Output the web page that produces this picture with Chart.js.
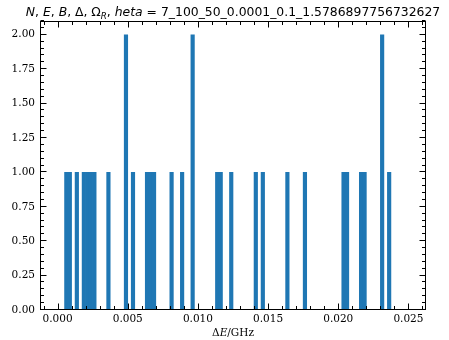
<!DOCTYPE html>
<html>
<head>
<meta charset="utf-8">
<script src="https://cdn.jsdelivr.net/npm/chart.js@4/dist/chart.umd.min.js"></script>
<style>
  html, body { margin: 0; padding: 0; background: #fff; }
  #wrap { width: 449px; height: 340px; position: relative; }
</style>
</head>
<body>
<div id="wrap"><canvas id="c" width="449" height="340"></canvas></div>
<script>
// Histogram of level spacings: bin width and the occupied bins (left edges, GHz)
const binWidth = 0.00025;
const binLeft = [0.0005, 0.00075, 0.00125, 0.00175, 0.002, 0.00225, 0.0025, 0.0035,
                 0.00475, 0.00525, 0.00625, 0.0065, 0.00675, 0.008, 0.00875, 0.0095,
                 0.01125, 0.0115, 0.01225, 0.014, 0.0145, 0.01625, 0.0175, 0.02025,
                 0.0205, 0.0215, 0.02175, 0.023, 0.0235];
const counts = [1, 1, 1, 1, 1, 1, 1, 1,
                2, 1, 1, 1, 1, 1, 1, 2,
                1, 1, 1, 1, 1, 1, 1, 1,
                1, 1, 1, 2, 1];

// Axis ticks
const xMajor = [0, 0.005, 0.01, 0.015, 0.02, 0.025];
const xMinor = [-0.001, 0.001, 0.002, 0.003, 0.004, 0.006, 0.007, 0.008, 0.009,
                0.011, 0.012, 0.013, 0.014, 0.016, 0.017, 0.018, 0.019,
                0.021, 0.022, 0.023, 0.024, 0.026];
const yMajor = [0, 0.25, 0.5, 0.75, 1.0, 1.25, 1.5, 1.75, 2.0];
const yMinor = [0.05, 0.1, 0.15, 0.2, 0.3, 0.35, 0.4, 0.45, 0.55, 0.6, 0.65, 0.7,
                0.8, 0.85, 0.9, 0.95, 1.05, 1.1, 1.15, 1.2, 1.3, 1.35, 1.4, 1.45,
                1.55, 1.6, 1.65, 1.7, 1.8, 1.85, 1.9, 1.95, 2.05, 2.1];

const xRange = [-0.00125, 0.02625];
const yRange = [0, 2.1];

const barColor = '#1f77b4';
const serif = '"DejaVu Serif", serif';
const sans = '"DejaVu Sans", sans-serif';

// Title pieces: [text, italic, subscript]
const titleParts = [
  ['N', true, false], [', ', false, false],
  ['E', true, false], [', ', false, false],
  ['B', true, false], [', ', false, false],
  ['\u0394', false, false], [', ', false, false],
  ['\u03A9', false, false], ['R', true, true], [', ', false, false],
  ['heta', true, false], [' = ', false, false],
  ['7_100_50_0.0001_0.1_1.5786897756732627', false, false]
];
// Axis label pieces
const xLabelParts = [['\u0394', false], ['E', true], ['/GHz', false]];

const framePlugin = {
  id: 'frameTicks',
  afterDraw(chart) {
    const { ctx, chartArea: a, scales: { x, y } } = chart;
    const L = Math.round(a.left) + 0.5, R = Math.round(a.right) - 0.5;
    const T = Math.round(a.top) + 0.5, B = Math.round(a.bottom) - 0.5;
    ctx.save();
    ctx.strokeStyle = '#000';
    ctx.lineWidth = 1;
    ctx.beginPath();
    const seg = (x1, y1, x2, y2) => { ctx.moveTo(x1, y1); ctx.lineTo(x2, y2); };
    const majLen = 6, minLen = 3.5;
    const xt = (v, len) => {
      const p = Math.round(x.getPixelForValue(v)) + 0.5;
      if (p < L || p > R) return;
      seg(p, B, p, B - len); seg(p, T, p, T + len);
    };
    const yt = (v, len) => {
      const p = Math.round(y.getPixelForValue(v)) - 0.5;
      if (p < T - 1 || p > B + 1) return;
      seg(L, p, L + len, p); seg(R, p, R - len, p);
    };
    xMajor.forEach(v => xt(v, majLen));
    xMinor.forEach(v => xt(v, minLen));
    yMajor.forEach(v => yt(v, majLen));
    yMinor.forEach(v => yt(v, minLen));
    ctx.stroke();
    ctx.strokeRect(L, T, R - L, B - T);

    // x axis label
    ctx.fillStyle = '#000';
    ctx.textBaseline = 'alphabetic';
    const fs = 10.5;
    const fontOf = it => (it ? 'italic ' : '') + fs + 'px ' + serif;
    let w = 0;
    xLabelParts.forEach(([t, it]) => { ctx.font = fontOf(it); w += ctx.measureText(t).width; });
    let cx = (a.left + a.right) / 2 - w / 2;
    xLabelParts.forEach(([t, it]) => {
      ctx.font = fontOf(it); ctx.fillText(t, cx, 336); cx += ctx.measureText(t).width;
    });

    // title
    const tfs = 12.4;
    const tFont = (it, sub) => (it ? 'italic ' : '') + (sub ? tfs * 0.7 : tfs) + 'px ' + sans;
    w = 0;
    titleParts.forEach(([t, it, sub]) => { ctx.font = tFont(it, sub); w += ctx.measureText(t).width; });
    cx = (a.left + a.right) / 2 - w / 2;
    titleParts.forEach(([t, it, sub]) => {
      ctx.font = tFont(it, sub);
      ctx.fillText(t, cx, sub ? 18.5 : 15.5);
      cx += ctx.measureText(t).width;
    });
    ctx.restore();
  }
};

new Chart(document.getElementById('c'), {
  type: 'bar',
  data: {
    datasets: [{
      data: binLeft.map((s, i) => ({ x: s + binWidth / 2, y: counts[i] })),
      backgroundColor: barColor,
      borderWidth: 0,
      barPercentage: 1,
      categoryPercentage: 1,
      grouped: false
    }]
  },
  options: {
    responsive: false,
    animation: false,
    events: [],
    layout: { padding: { top: 21, right: 23, left: 0, bottom: 0 } },
    plugins: { legend: { display: false }, tooltip: { enabled: false }, title: { display: false } },
    scales: {
      x: {
        type: 'linear',
        offset: false,
        min: xRange[0], max: xRange[1],
        grid: { display: false, drawTicks: false },
        border: { display: false },
        afterBuildTicks: s => { s.ticks = xMajor.map(v => ({ value: v })); },
        afterFit: s => { s.height = 30; },
        ticks: {
          padding: 3,
          maxRotation: 0,
          autoSkip: false,
          color: '#000',
          font: { family: serif, size: 10.5 },
          callback: v => v.toFixed(3)
        }
      },
      y: {
        type: 'linear',
        min: yRange[0], max: yRange[1],
        grid: { display: false, drawTicks: false },
        border: { display: false },
        afterBuildTicks: s => { s.ticks = yMajor.map(v => ({ value: v })); },
        afterFit: s => { s.width = 40; },
        ticks: {
          padding: 5,
          autoSkip: false,
          color: '#000',
          font: { family: serif, size: 10.5 },
          callback: v => v.toFixed(2)
        }
      }
    }
  },
  plugins: [framePlugin]
});
</script>
</body>
</html>
